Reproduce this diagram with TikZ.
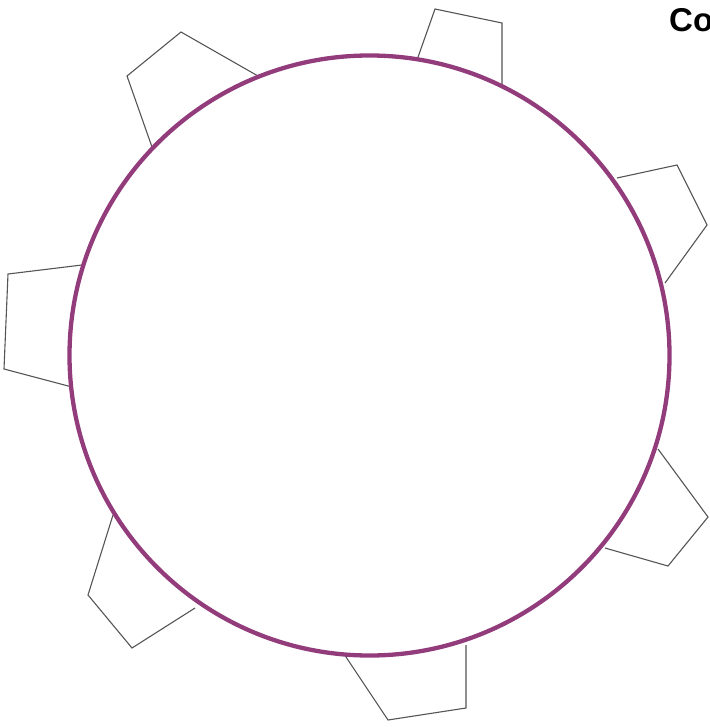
\documentclass[tikz,border=0pt]{standalone}
\usepackage{fontspec}
\setmainfont{Liberation Sans}
\definecolor{ringpurple}{RGB}{146,60,124}
\definecolor{tabgray}{RGB}{85,85,85}
\tikzset{
  ring/.style={draw=ringpurple, line width=4.3pt},
  tab/.style={draw=tabgray, line width=1.1pt, line join=miter},
  titletext/.style={font=\bfseries\fontsize{33}{40}\selectfont, anchor=base west, inner sep=0pt}
}
\begin{document}
\begin{tikzpicture}[x=1pt,y=-1pt]
\useasboundingbox (0,0) rectangle (709,727);
% tabs
\draw[tab] (417,60) -- (435,9) -- (502,23) -- (502,85);
\draw[tab] (258,76) -- (181,32) -- (127,76) -- (152,147);
\draw[tab] (82,265) -- (8,274) -- (4,369) -- (72,387);
\draw[tab] (617,178) -- (677,165) -- (707,225) -- (665,283);
\draw[tab] (658,449) -- (708,517) -- (668,566) -- (605,548);
\draw[tab] (466,645) -- (466,708) -- (388,720) -- (344,654);
\draw[tab] (113,515) -- (88,595) -- (132,648) -- (195,608);
% ring
\coordinate (c) at (369.5,355.5);
\draw[ring] (c) circle[radius=300];
% title (cut by the page edge)
\node[titletext] (title) at (669,32) {Co};
\end{tikzpicture}
\end{document}
